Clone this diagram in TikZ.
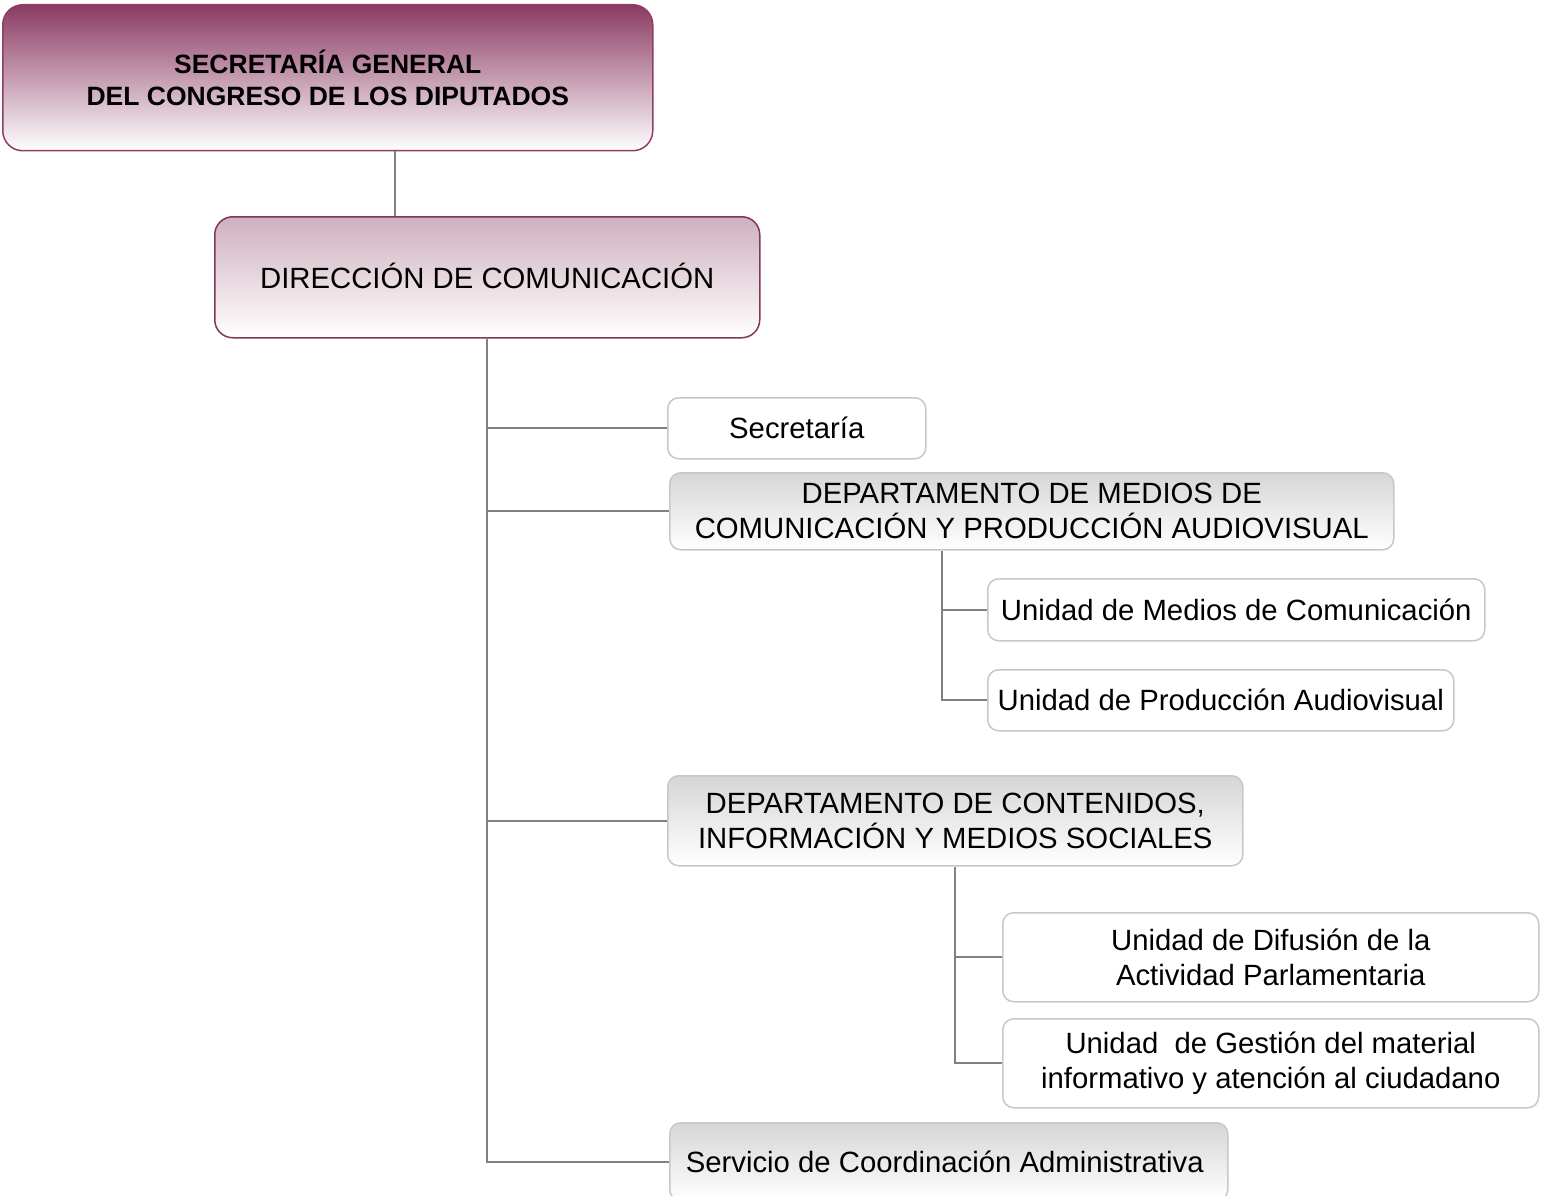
\documentclass[tikz,border=0pt]{standalone}
\usepackage{fontspec}
\setmainfont{Liberation Sans}
\definecolor{mauveTop}{RGB}{139,58,98}
\definecolor{mauveLine}{RGB}{145,60,100}
\definecolor{mauveLight}{RGB}{206,176,190}
\definecolor{boxLine}{RGB}{200,200,200}
\definecolor{grayTop}{RGB}{214,214,214}
\definecolor{connGray}{RGB}{128,128,128}
\tikzset{
  base/.style={rectangle, anchor=north west, inner sep=0pt, align=center,
    font=\fontsize{29.3}{35}\selectfont, line width=1.5pt},
  topbox/.style={base, rounded corners=20pt, draw=mauveLine,
    top color=mauveTop, bottom color=white,
    font=\bfseries\fontsize{26.5}{32}\selectfont},
  dirbox/.style={base, rounded corners=18pt, draw=mauveLine!90!black,
    top color=mauveLight, middle color=mauveLight, bottom color=white},
  whitebox/.style={base, rounded corners=11pt, draw=boxLine, fill=white},
  graybox/.style={base, rounded corners=11pt, draw=boxLine,
    top color=grayTop, middle color=grayTop!60!white, bottom color=white},
  conn/.style={draw=connGray, line width=2pt}
}
\begin{document}
\begin{tikzpicture}[x=1pt,y=-1pt]
\useasboundingbox (0,0) rectangle (1542,1196);
\clip (0,0) rectangle (1542,1196);

\node[topbox, minimum width=650pt, minimum height=146pt] (top) at (2,4)
  {SECRETARÍA GENERAL\\DEL CONGRESO DE LOS DIPUTADOS};
\node[dirbox, minimum width=545pt, minimum height=121pt] (dir) at (214,216)
  {\raisebox{2pt}{DIRECCIÓN DE COMUNICACIÓN}};

\node[whitebox, minimum width=258pt, minimum height=61pt] (sec) at (667,397)
  {Secretaría};
\node[graybox, minimum width=724pt, minimum height=77pt] (dm) at (669,472)
  {DEPARTAMENTO DE MEDIOS DE\\COMUNICACIÓN Y PRODUCCIÓN AUDIOVISUAL};
\node[whitebox, minimum width=497pt, minimum height=62pt] (um) at (987,578)
  {Unidad de Medios de Comunicación};
\node[whitebox, minimum width=466pt, minimum height=61pt] (up) at (987,669)
  {Unidad de Producción Audiovisual};
\node[graybox, minimum width=575pt, minimum height=90pt] (dc) at (667,775)
  {DEPARTAMENTO DE CONTENIDOS,\\INFORMACIÓN Y MEDIOS SOCIALES};
\node[whitebox, minimum width=536pt, minimum height=89pt] (ud) at (1002,912)
  {Unidad de Difusión de la\\ Actividad Parlamentaria};
\node[whitebox, minimum width=536pt, minimum height=89pt] (ug) at (1002,1018)
  {Unidad\ \ de Gestión del material\\informativo y atención al ciudadano};
\node[graybox, minimum width=558pt, minimum height=78pt] (sc) at (669,1122)
  {Servicio de Coordinación Administrativa\hspace*{8pt}};

% connectors
\draw[conn] (top.south west) ++(393,0) coordinate (c1) -- (c1 |- dir.north);
\draw[conn] (dir.south) |- (sc.west);
\draw[conn] (dir.south) |- (sec.west);
\draw[conn] (dir.south) |- (dm.west);
\draw[conn] (dir.south) |- (dc.west);
\draw[conn] (dm.south west) ++(273,0) coordinate (c2) |- (up.west);
\draw[conn] (c2) |- (um.west);
\draw[conn] (dc.south) |- (ug.west);
\draw[conn] (dc.south) |- (ud.west);
\end{tikzpicture}
\end{document}
